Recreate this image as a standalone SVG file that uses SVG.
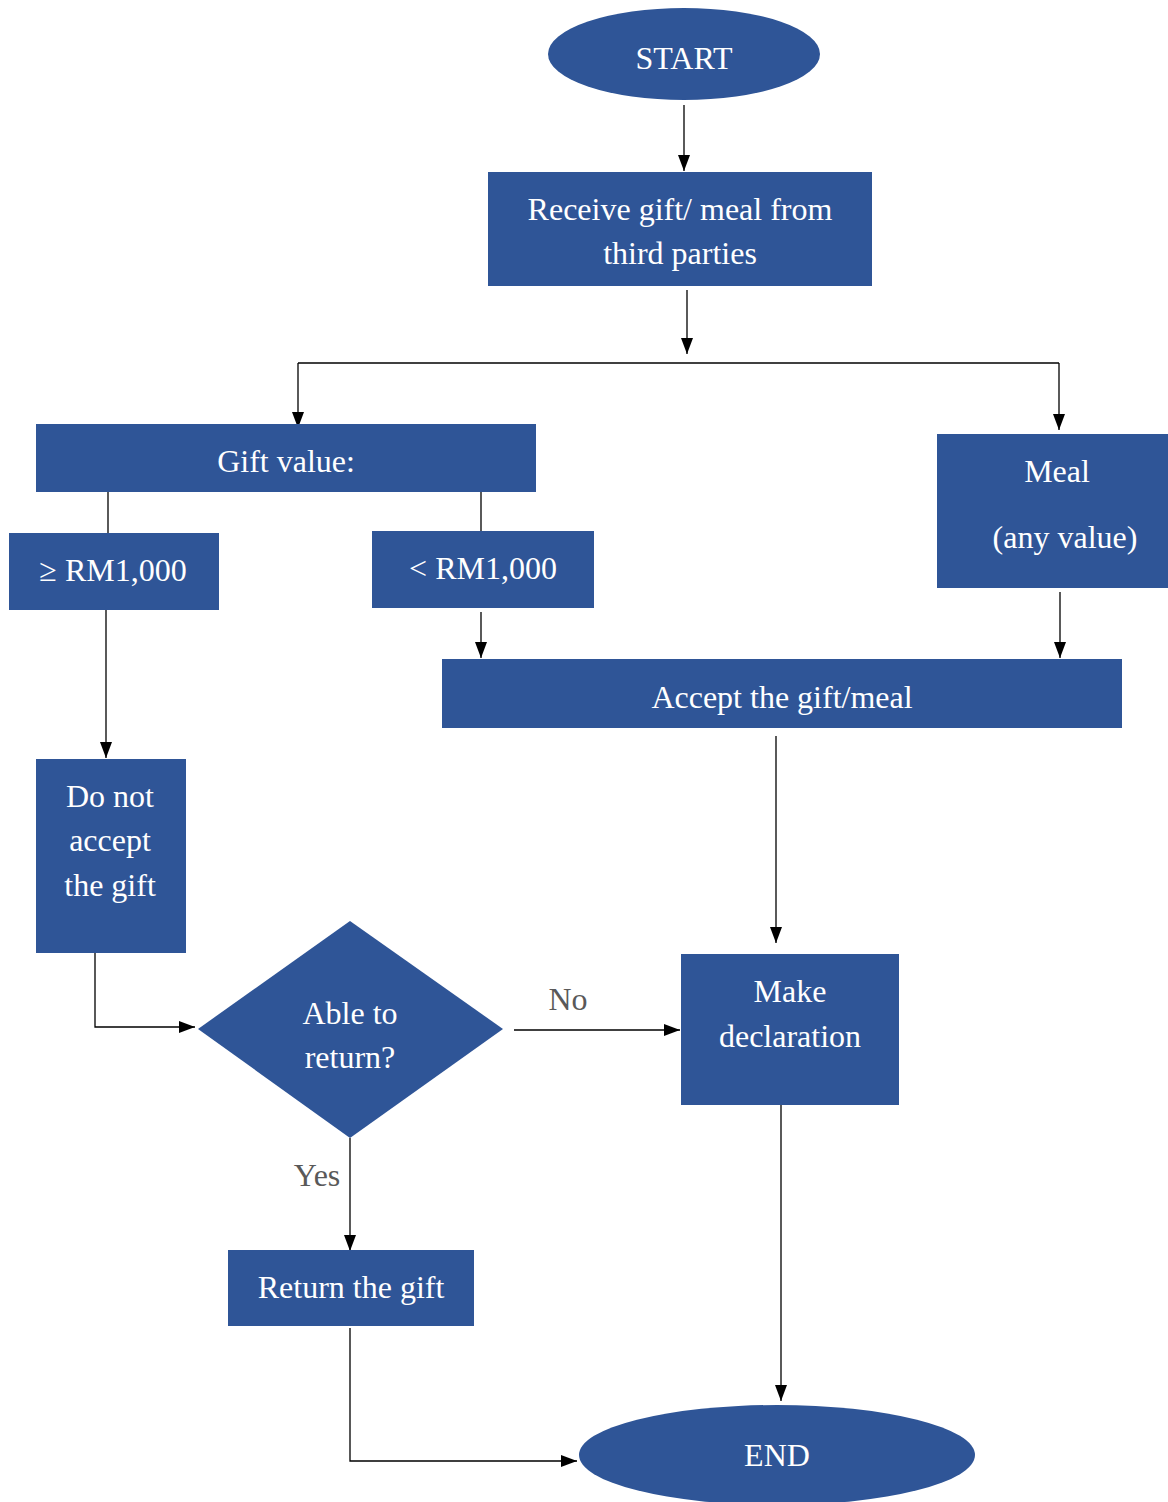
<svg xmlns="http://www.w3.org/2000/svg" width="1168" height="1502" viewBox="0 0 1168 1502">
<style>
.n{fill:#2F5597}
.t{font-family:"Liberation Serif","Times New Roman",serif;font-size:32px;fill:#fff;text-anchor:middle}
.l{font-family:"Liberation Serif","Times New Roman",serif;font-size:32px;fill:#595959;text-anchor:middle}
.c{stroke:#000;stroke-width:1.3;fill:none}
.a{marker-end:url(#ah)}
</style>
<defs>
<marker id="ah" markerUnits="userSpaceOnUse" markerWidth="16" markerHeight="16" viewBox="0 0 16 16" refX="16" refY="8" orient="auto">
<path d="M0,2 L16,8 L0,14 Z" fill="#000"/>
</marker>
</defs>
<rect width="1168" height="1502" fill="#fff"/>
<g id="connectors">
<path class="c a" d="M684,105 V171"/>
<path class="c a" d="M687,290 V354"/>
<path class="c" d="M298,363 H1059"/>
<path class="c a" d="M298,363 V428"/>
<path class="c a" d="M1059,363 V430"/>
<path class="c" d="M108,492 V533"/>
<path class="c" d="M481,492 V531"/>
<path class="c a" d="M481,612 V658"/>
<path class="c a" d="M1060,592 V658"/>
<path class="c a" d="M106,610 V758"/>
<path class="c a" d="M776,736 V943"/>
<path class="c a" d="M95,953 V1027 H195"/>
<path class="c a" d="M514,1030 H680"/>
<path class="c a" d="M350,1138 V1251"/>
<path class="c a" d="M350,1328 V1461 H577"/>
<path class="c a" d="M781,1103 V1401"/>
</g>
<g id="start"><ellipse class="n" cx="684" cy="54" rx="136" ry="46"/><text class="t" x="684" y="69">START</text></g>
<g id="receive"><rect class="n" x="488" y="172" width="384" height="114"/><text class="t" x="680" y="220">Receive gift/ meal from</text><text class="t" x="680" y="264">third parties</text></g>
<g id="giftvalue"><rect class="n" x="36" y="424" width="500" height="68"/><text class="t" x="286" y="472">Gift value:</text></g>
<g id="ge1000"><rect class="n" x="9" y="533" width="210" height="77"/><text class="t" x="113" y="581">≥ RM1,000</text></g>
<g id="lt1000"><rect class="n" x="372" y="531" width="222" height="77"/><text class="t" x="483" y="579">&lt; RM1,000</text></g>
<g id="meal"><rect class="n" x="937" y="434" width="231" height="154"/><text class="t" x="1057" y="482">Meal</text><text class="t" x="1065" y="548">(any value)</text></g>
<g id="accept"><rect class="n" x="442" y="659" width="680" height="69"/><text class="t" x="782" y="708">Accept the gift/meal</text></g>
<g id="donotaccept"><rect class="n" x="36" y="759" width="150" height="194"/><text class="t" x="110" y="807">Do not</text><text class="t" x="110" y="851">accept</text><text class="t" x="110" y="896">the gift</text></g>
<g id="declaration"><rect class="n" x="681" y="954" width="218" height="151"/><text class="t" x="790" y="1002">Make</text><text class="t" x="790" y="1047">declaration</text></g>
<g id="able"><polygon class="n" points="198,1029 350,921 503,1029 350,1138"/><text class="t" x="350" y="1024">Able to</text><text class="t" x="350" y="1068">return?</text></g>
<g id="labels"><text class="l" x="568" y="1010">No</text><text class="l" x="317" y="1186">Yes</text></g>
<g id="return"><rect class="n" x="228" y="1250" width="246" height="76"/><text class="t" x="351" y="1298">Return the gift</text></g>
<g id="end"><ellipse class="n" cx="777" cy="1455" rx="198" ry="50"/><text class="t" x="777" y="1466">END</text></g>
</svg>
